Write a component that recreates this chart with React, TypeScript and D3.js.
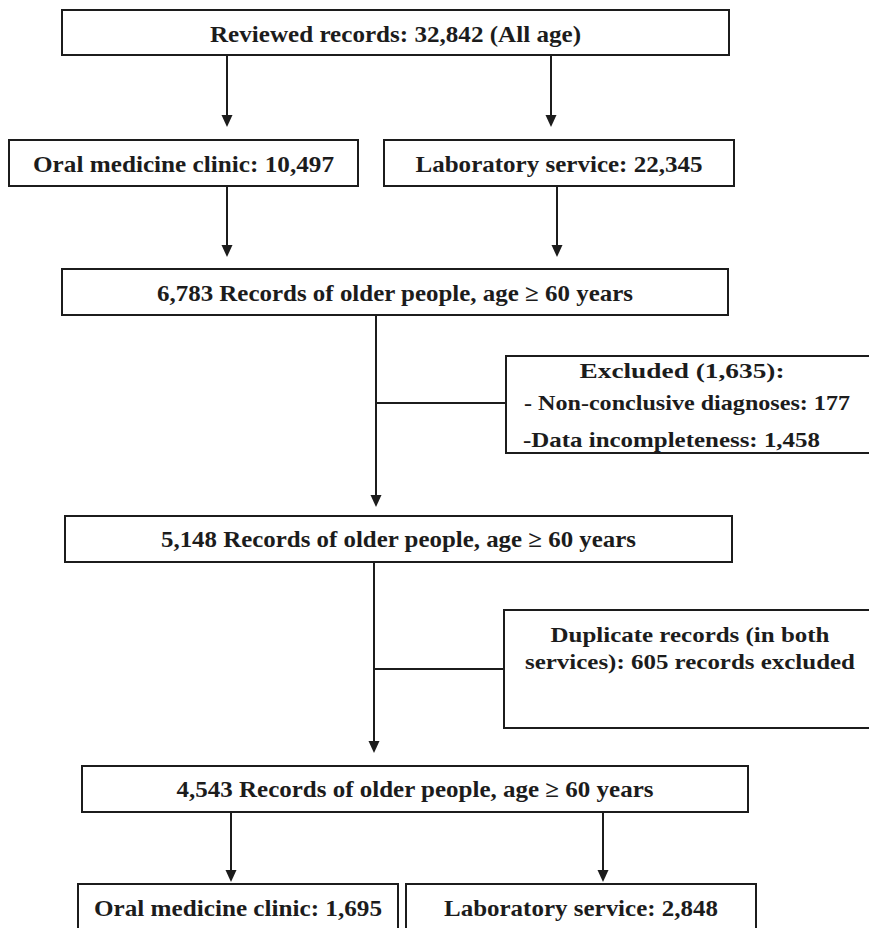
import * as d3 from 'd3';
import { useEffect, useRef } from 'react';

// flow counts
const reviewedCount = 32842;
const sourceNames = ['Oral medicine clinic', 'Laboratory service'];
const sourceCounts = [10497, 22345];
const stageCounts = [6783, 5148, 4543];
const exclusionReasons = ['Non-conclusive diagnoses', 'Data incompleteness'];
const exclusionCounts = [177, 1458];
const duplicateCount = 605;
const finalCounts = [1695, 2848];

interface Box {
  x0: number;
  x1: number;
  y0: number;
  y1: number;
}

const fmt = d3.format(',');
const FONT = '"Times New Roman", Times, "Liberation Serif", serif';
const INK = '#1c1c1c';

function App(): JSX.Element {
  const svgRef = useRef<SVGSVGElement | null>(null);
  const width = 869;
  const height = 928;

  useEffect(() => {
    if (svgRef.current) svgRef.current.innerHTML = '';
    const svg = d3.select(svgRef.current);
    svg.attr('width', width).attr('height', height);

    // layout
    const topBox: Box = { x0: 62, x1: 729, y0: 10, y1: 55 };
    const sourceBoxes: Box[] = [
      { x0: 9, x1: 358, y0: 140, y1: 186 },
      { x0: 384, x1: 734, y0: 140, y1: 186 }
    ];
    const stageBoxes: Box[] = [
      { x0: 62, x1: 728, y0: 269, y1: 315 },
      { x0: 65, x1: 732, y0: 516, y1: 562 },
      { x0: 82, x1: 748, y0: 766, y1: 812 }
    ];
    const exclBox: Box = { x0: 506, x1: 876, y0: 356, y1: 453 };
    const dupBox: Box = { x0: 504, x1: 876, y0: 610, y1: 728 };
    const finalBoxes: Box[] = [
      { x0: 78, x1: 398, y0: 884, y1: 945 },
      { x0: 406, x1: 756, y0: 884, y1: 945 }
    ];

    const g = svg.append('g');

    const drawBox = (b: Box) => {
      g.append('rect')
        .attr('x', b.x0)
        .attr('y', b.y0)
        .attr('width', b.x1 - b.x0)
        .attr('height', b.y1 - b.y0)
        .attr('fill', 'none')
        .attr('stroke', INK)
        .attr('stroke-width', 2);
    };

    const drawText = (
      parent: d3.Selection<SVGGElement, unknown, null, undefined>,
      txt: string,
      x: number,
      y: number,
      len: number,
      size: number,
      anchor = 'middle'
    ) => {
      parent
        .append('text')
        .attr('x', x)
        .attr('y', y)
        .attr('text-anchor', anchor)
        .style('font-family', FONT)
        .style('font-weight', 'bold')
        .style('font-size', `${size}px`)
        .attr('fill', INK)
        .attr('textLength', len)
        .attr('lengthAdjust', 'spacingAndGlyphs')
        .text(txt);
    };

    const drawArrow = (x: number, yFrom: number, yTip: number) => {
      g.append('line')
        .attr('x1', x)
        .attr('x2', x)
        .attr('y1', yFrom)
        .attr('y2', yTip - 10)
        .attr('stroke', INK)
        .attr('stroke-width', 2);
      const p = d3.path();
      p.moveTo(x - 5.5, yTip - 12);
      p.lineTo(x + 5.5, yTip - 12);
      p.lineTo(x, yTip);
      p.closePath();
      g.append('path').attr('d', p.toString()).attr('fill', INK);
    };

    const drawHLine = (x1: number, x2: number, y: number) => {
      g.append('line')
        .attr('x1', x1)
        .attr('x2', x2)
        .attr('y1', y)
        .attr('y2', y)
        .attr('stroke', INK)
        .attr('stroke-width', 2);
    };

    const mid = (b: Box) => (b.x0 + b.x1) / 2;

    // top box
    drawBox(topBox);
    drawText(g, `Reviewed records: ${fmt(reviewedCount)} (All age)`, mid(topBox), 42, 371, 23);

    // source boxes
    const srcLens = [301, 287];
    sourceBoxes.forEach((b, i) => {
      drawBox(b);
      drawText(g, `${sourceNames[i]}: ${fmt(sourceCounts[i])}`, mid(b), 172, srcLens[i], 23);
    });
    drawArrow(227, topBox.y1, 127);
    drawArrow(551, topBox.y1, 127);
    drawArrow(227, sourceBoxes[0].y1, 257);
    drawArrow(557, sourceBoxes[1].y1, 257);

    // stage boxes
    const stageBase = [301, 547, 797];
    const stageLens = [476, 475, 477];
    stageBoxes.forEach((b, i) => {
      drawBox(b);
      drawText(
        g,
        `${fmt(stageCounts[i])} Records of older people, age \u2265 60 years`,
        mid(b),
        stageBase[i],
        stageLens[i],
        23
      );
    });

    // exclusion step
    drawArrow(376, stageBoxes[0].y1, 507);
    drawHLine(376, exclBox.x0, 403);
    const clip = svg
      .append('defs')
      .append('clipPath')
      .attr('id', 'exclClip');
    clip
      .append('rect')
      .attr('x', exclBox.x0)
      .attr('y', exclBox.y0)
      .attr('width', exclBox.x1 - exclBox.x0)
      .attr('height', exclBox.y1 - exclBox.y0);
    const exclG = g.append('g').attr('clip-path', 'url(#exclClip)');
    drawText(exclG, `Excluded (${fmt(d3.sum(exclusionCounts))}):`, 682, 378, 205, 22);
    drawText(exclG, `- ${exclusionReasons[0]}: ${fmt(exclusionCounts[0])}`, 524, 410, 326, 22, 'start');
    drawText(exclG, `-${exclusionReasons[1]}: ${fmt(exclusionCounts[1])}`, 523, 447, 297, 22, 'start');
    drawBox(exclBox);

    // duplicates
    drawArrow(374, stageBoxes[1].y1, 753);
    drawHLine(374, dupBox.x0, 669);
    drawBox(dupBox);
    drawText(g, 'Duplicate records (in both', 690, 642, 279, 22);
    drawText(g, `services): ${fmt(duplicateCount)} records excluded`, 690, 669, 330, 22);

    // final split
    drawArrow(231, stageBoxes[2].y1, 882);
    drawArrow(603, stageBoxes[2].y1, 882);
    const finalLens = [288, 274];
    finalBoxes.forEach((b, i) => {
      drawBox(b);
      drawText(g, `${sourceNames[i]}: ${fmt(finalCounts[i])}`, mid(b), 916, finalLens[i], 23);
    });
  }, [width, height]);

  return (
    <div style={{ position: 'absolute', left: 0, top: 0, background: '#fff' }}>
      <svg ref={svgRef} style={{ display: 'block' }} />
    </div>
  );
}

export default App;
